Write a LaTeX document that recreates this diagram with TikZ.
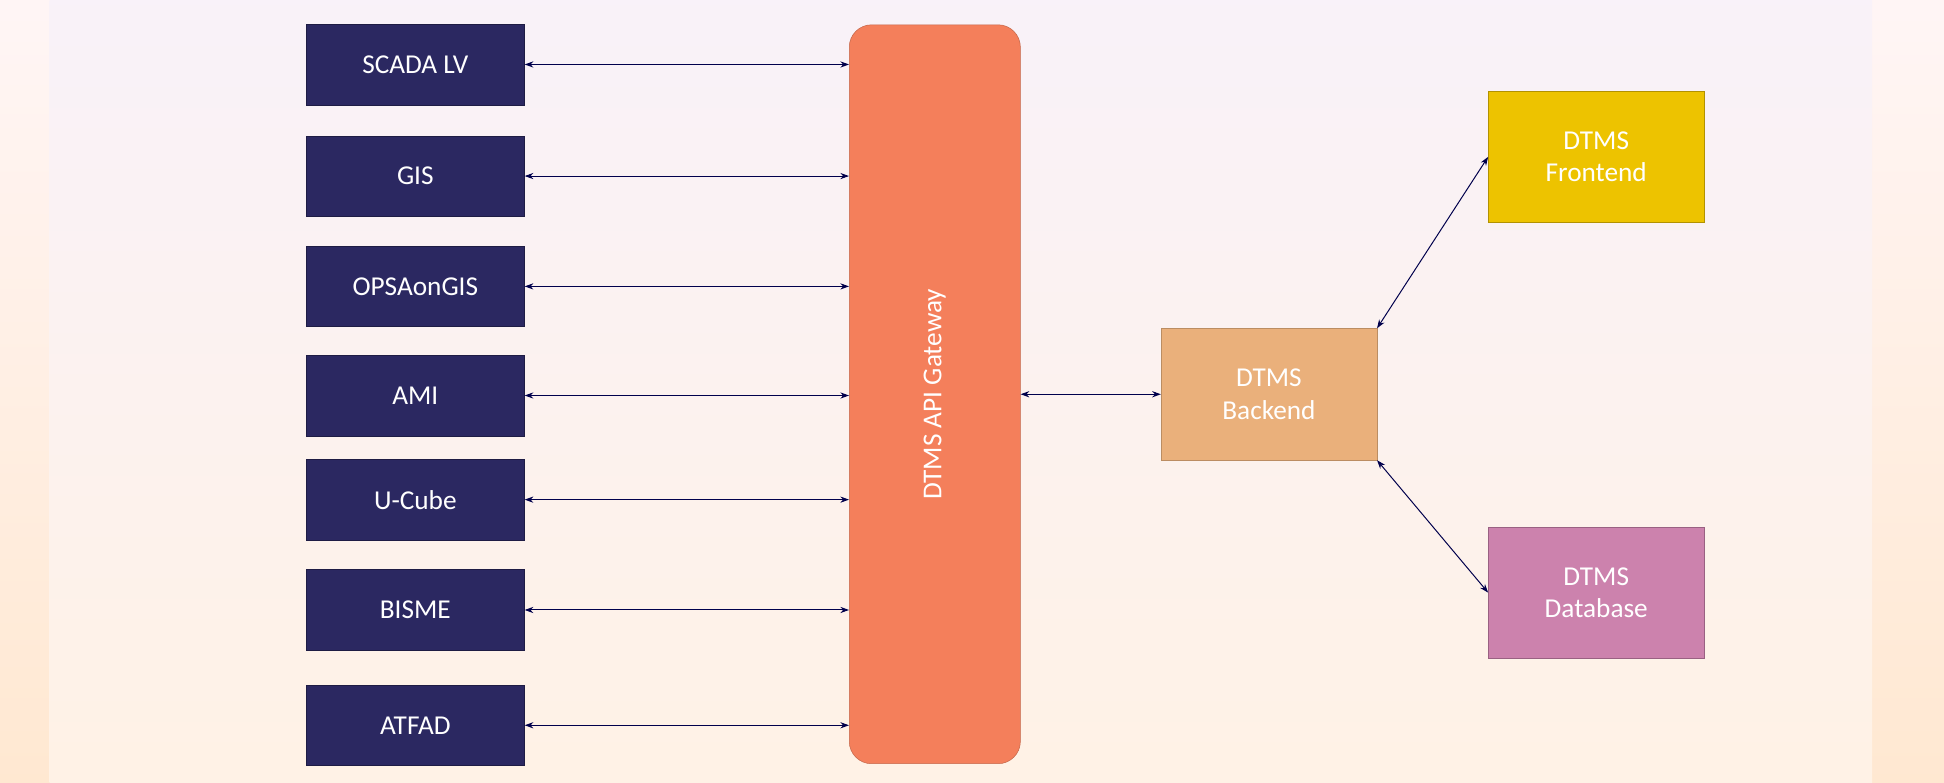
\documentclass[tikz,border=0pt]{standalone}
\usepackage{fontspec}
\setmainfont{Carlito}
\usetikzlibrary{arrows.meta}
\definecolor{navy}{HTML}{2B2861}
\definecolor{gw}{HTML}{F47F5B}
\definecolor{be}{HTML}{EAB07B}
\definecolor{fe}{HTML}{EDC300}
\definecolor{db}{HTML}{CC82AD}
\begin{document}
\begin{tikzpicture}[x=1pt,y=-1pt,
  src/.style={draw=navy!70!black,fill=navy,text=white,minimum width=176pt,minimum height=65pt,font=\fontsize{22}{26}\selectfont},
  blk/.style={minimum width=174pt,minimum height=106pt,text=white,align=center,font=\fontsize{22}{26}\selectfont},
  conn/.style={draw=black!70!blue,line width=0.8pt,{Stealth[length=7pt,width=5pt]}-{Stealth[length=7pt,width=5pt]}}]
\shade[top color=pink!15,bottom color=orange!18] (0,0) rectangle (1568,631);
\shade[top color=violet!5,bottom color=orange!10] (40,0) rectangle (1510,631);
\useasboundingbox (0,0) rectangle (1568,631);
\node[src] (s1) at (335,52) {SCADA LV};
\node[src] (s2) at (335,142) {GIS};
\node[src] (s3) at (335,231) {OPSAonGIS};
\node[src] (s4) at (335,319) {AMI};
\node[src] (s5) at (335,403) {U-Cube};
\node[src] (s6) at (335,492) {BISME};
\node[src] (s7) at (335,585) {ATFAD};
\node[draw=gw!80!black,fill=gw,rounded corners=18pt,minimum width=138pt,minimum height=596pt] (gw) at (754,318) {};
\node[rotate=90,text=white,font=\fontsize{22}{26}\selectfont] at (gw.center) {DTMS API Gateway};
\node[blk,draw=be!80!black,fill=be] (be) at (1023.5,318) {DTMS\\Backend};
\node[blk,draw=fe!75!black,fill=fe] (fe) at (1287.5,126.5) {DTMS\\Frontend};
\node[blk,draw=db!75!black,fill=db] (db) at (1287.5,478) {DTMS\\Database};
\foreach \i in {1,...,7}{\draw[conn] (s\i.east) -- (s\i.east -| gw.west);}
\draw[conn] (gw.east |- be.west) -- (be.west);
\draw[conn] (be.north east) -- (fe.west);
\draw[conn] (be.south east) -- (db.west);
\end{tikzpicture}
\end{document}
